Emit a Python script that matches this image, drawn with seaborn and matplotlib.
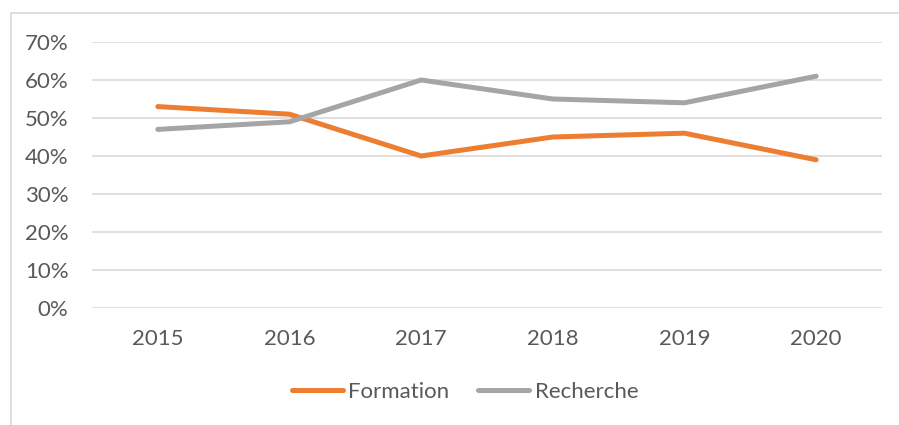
import pandas as pd
import seaborn as sns
import matplotlib.pyplot as plt
from matplotlib.patches import Rectangle
from matplotlib.ticker import PercentFormatter

# données
annees = ["2015", "2016", "2017", "2018", "2019", "2020"]
formation = [0.53, 0.51, 0.40, 0.45, 0.46, 0.39]
recherche = [0.47, 0.49, 0.60, 0.55, 0.54, 0.61]

df = pd.DataFrame({
    "annee": annees * 2,
    "valeur": formation + recherche,
    "serie": ["Formation"] * len(annees) + ["Recherche"] * len(annees),
})

sns.set_style("white")
plt.rcParams["font.family"] = ["Lato", "DejaVu Sans"]

fig = plt.figure(figsize=(8.99, 4.25), dpi=100)
ax = fig.add_axes([92 / 899, 1 - 308 / 425, 790 / 899, 266 / 425])

sns.lineplot(
    data=df,
    x="annee",
    y="valeur",
    hue="serie",
    palette={"Formation": "#ED7D31", "Recherche": "#A5A5A5"},
    linewidth=3.6,
    ax=ax,
)
for line in ax.get_lines():
    line.set_solid_capstyle("round")
    line.set_solid_joinstyle("round")

ax.set_xlim(-0.5, 5.5)
ax.set_ylim(0, 0.7)
ax.set_yticks([i / 10 for i in range(8)])
ax.yaxis.set_major_formatter(PercentFormatter(1.0, decimals=0))
ax.grid(axis="y", color="#D9D9D9", linewidth=1.2)
ax.grid(axis="x", visible=False)
ax.set_axisbelow(True)
for s in ax.spines.values():
    s.set_visible(False)
ax.set_xlabel("")
ax.set_ylabel("")
ax.tick_params(axis="y", length=0, pad=17, labelsize=16, labelcolor="#595959")
ax.tick_params(axis="x", length=0, pad=15, labelsize=16, labelcolor="#595959")

leg = ax.legend(
    loc="center",
    bbox_to_anchor=(465 / 899, 1 - 392 / 425),
    bbox_transform=fig.transFigure,
    ncol=2,
    frameon=False,
    fontsize=16,
    handlelength=2.3,
    handletextpad=0.25,
    columnspacing=1.3,
)
for t in leg.get_texts():
    t.set_color("#595959")
for h in leg.get_lines():
    h.set_linewidth(3.6)
    h.set_solid_capstyle("round")

# cadre du graphique
fig.patches.append(Rectangle(
    (11 / 899, -0.1), 1.0, 1 - 13 / 425 + 0.1,
    transform=fig.transFigure, fill=False, edgecolor="#D9D9D9", linewidth=1.2,
))

fig.savefig("out.png", dpi=100)
